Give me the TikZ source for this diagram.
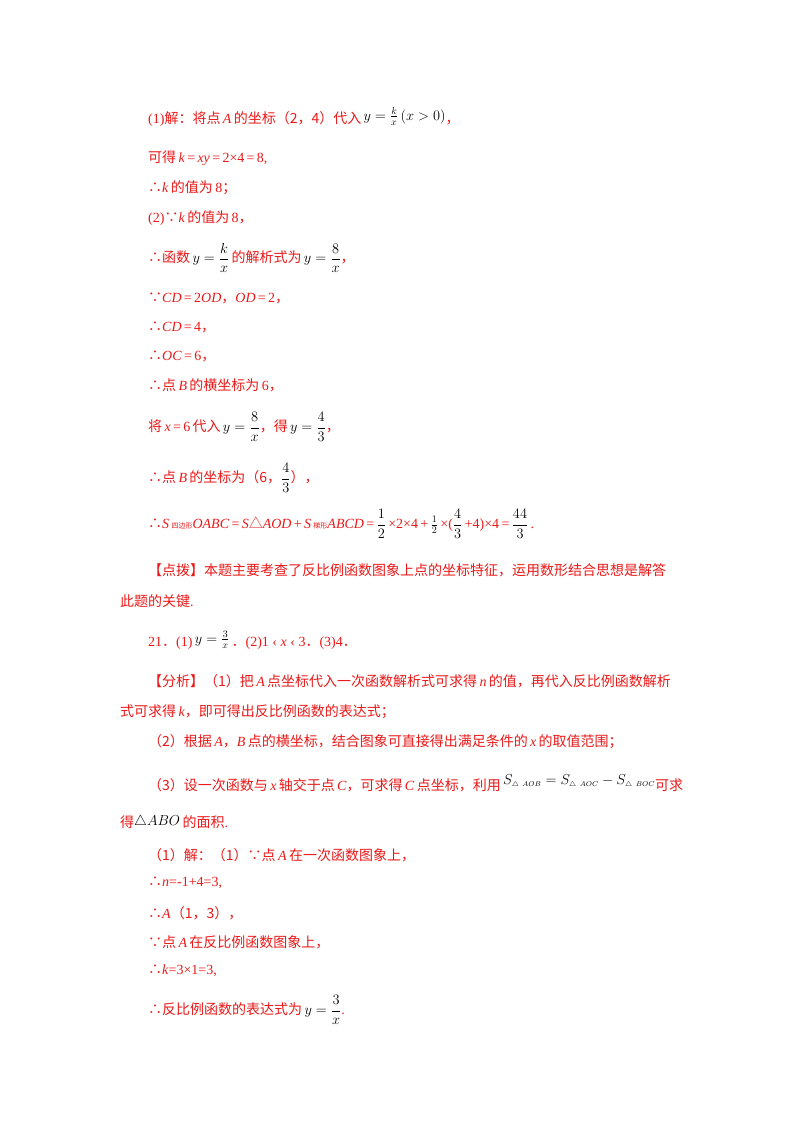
\documentclass[tikz,border=0pt]{standalone}
\usepackage{amsmath}
\usepackage{fontspec}
\setmainfont{Liberation Serif}
\newfontfamily\cjk{Noto Sans CJK SC}
\definecolor{rd}{RGB}{235,25,25}
\newcommand{\zh}[1]{{\cjk #1}}
\newcommand{\bm}[1]{{\color{black}$#1$}}
\begin{document}
\begin{tikzpicture}[x=1pt,y=-1pt,
  ln/.style={anchor=west,inner sep=0pt,text=rd,font=\fontsize{14}{16}\selectfont}]
\useasboundingbox (0,0) rectangle (800,1132);
\fill[white] (0,0) rectangle (800,1132);
\node[ln] (l1) at (148,117) {(1)\zh{解：将点}\,\textit{A}\,\zh{的坐标（2，4）代入}\,\raisebox{3pt}{\bm{\textstyle y=\frac{k}{x}\left(x>0\right)}}\zh{，}};
\node[ln] (l2) at (148,158) {\zh{可得}\,\textit{k}\,=\,\textit{xy}\,=\,2×4\,=\,8,};
\node[ln] (l3) at (148,188) {\zh{∴}\textit{k}\,\zh{的值为}\,8\zh{；}};
\node[ln] (l4) at (148,218) {(2)\zh{∵}\textit{k}\,\zh{的值为}\,8\zh{，}};
\node[ln] (l5) at (148,258) {\zh{∴函数}\,\bm{y=\dfrac{k}{x}}\,\zh{的解析式为}\,\bm{y=\dfrac{8}{x}}\zh{，}};
\node[ln] (l6) at (148,298) {\zh{∵}\textit{CD}\,=\,2\textit{OD}\zh{，}\textit{OD}\,=\,2\zh{，}};
\node[ln] (l7) at (148,327) {\zh{∴}\textit{CD}\,=\,4\zh{，}};
\node[ln] (l8) at (148,356) {\zh{∴}\textit{OC}\,=\,6\zh{，}};
\node[ln] (l9) at (148,385) {\zh{∴点}\,\textit{B}\,\zh{的横坐标为}\,6\zh{，}};
\node[ln] (l10) at (148,427) {\zh{将}\,\textit{x}\,=\,6\,\zh{代入}\,\bm{y=\dfrac{8}{x}}\zh{，得}\,\bm{y=\dfrac{4}{3}}\zh{，}};
\node[ln] (l11) at (148,478) {\zh{∴点}\,\textit{B}\,\zh{的坐标为（6，}\bm{\dfrac{4}{3}}\zh{），}};
\node[ln] (l12) at (148,524) {\zh{∴}\textit{S}\,{\fontsize{7}{8}\selectfont\zh{四边形}}\textit{OABC}\,=\,\textit{S}\zh{△}\textit{AOD}\,+\,\textit{S}\,{\fontsize{7}{8}\selectfont\zh{梯形}}\textit{ABCD}\,=\,\bm{\dfrac{1}{2}}\,×2×4\,+\,\bm{\frac{1}{2}}\,×(\bm{\dfrac{4}{3}}\,+4)×4\,=\,\bm{\dfrac{44}{3}}\,.};
\node[ln] (l13) at (148,570) {\zh{【点拨】本题主要考查了反比例函数图象上点的坐标特征，运用数形结合思想是解答}};
\node[ln] (l14) at (120,601) {\zh{此题的关键}.};
\node[ln] (l15) at (148,640) {21\zh{．}(1)\,\raisebox{3pt}{\bm{\textstyle y=\frac{3}{x}}}\,\zh{．}(2)1 ‹ \textit{x} ‹ 3\zh{．}(3)4\zh{．}};
\node[ln] (l16) at (148,681) {\zh{【分析】（1）把}\,\textit{A}\,\zh{点坐标代入一次函数解析式可求得}\,\textit{n}\,\zh{的值，再代入反比例函数解析}};
\node[ln] (l17) at (120,712) {\zh{式可求得}\,\textit{k}\zh{，即可得出反比例函数的表达式；}};
\node[ln] (l18) at (148,742) {\zh{（2）根据}\,\textit{A}\zh{，}\textit{B}\,\zh{点的横坐标，结合图象可直接得出满足条件的}\,\textit{x}\,\zh{的取值范围；}};
\node[ln] (l19) at (148,783) {\zh{（3）设一次函数与}\,\textit{x}\,\zh{轴交于点}\,\textit{C}\zh{，可求得}\,\textit{C}\,\zh{点坐标，利用}\,\raisebox{6pt}{\bm{S_{\scriptscriptstyle\triangle\ AOB}=S_{\scriptscriptstyle\triangle\ AOC}-S_{\scriptscriptstyle\triangle\ BOC}}}\zh{可求}};
\node[ln] (l20) at (120,822) {\zh{得}\raisebox{2pt}{\bm{\triangle ABO}}\,\zh{的面积}.};
\node[ln] (l21) at (148,855) {\zh{（1）解：（1）∵点}\,\textit{A}\,\zh{在一次函数图象上，}};
\node[ln] (l22) at (148,883) {\zh{∴}\textit{n}=-1+4=3,};
\node[ln] (l23) at (148,913) {\zh{∴}\textit{A}\zh{（1，3），}};
\node[ln] (l24) at (148,942) {\zh{∵点}\,\textit{A}\,\zh{在反比例函数图象上，}};
\node[ln] (l25) at (148,971) {\zh{∴}\textit{k}=3×1=3,};
\node[ln] (l26) at (148,1010) {\zh{∴反比例函数的表达式为}\,\bm{y=\dfrac{3}{x}}.};
\end{tikzpicture}
\end{document}
